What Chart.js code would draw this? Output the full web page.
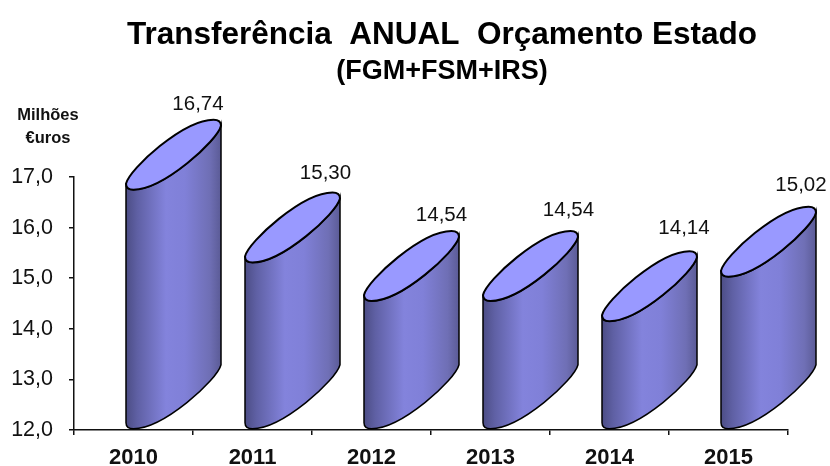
<!DOCTYPE html>
<html><head><meta charset="utf-8">
<style>html,body{margin:0;padding:0;background:#fff}#w{width:830px;height:466px;position:relative}</style>
<script src="https://cdn.jsdelivr.net/npm/chart.js@4"></script>
</head><body><div id="w"><canvas id="c" width="830" height="466"></canvas></div>
<script>
const categories = ["2010","2011","2012","2013","2014","2015"];
const transferencia = [16.74,15.30,14.54,14.54,14.14,15.02];
const yTicks = [12,13,14,15,16,17];
const unitLabel = ["Milhões","€uros"];
const titleText = "Transferência  ANUAL  Orçamento Estado";
const subtitleText = "(FGM+FSM+IRS)";
const fmt = (v,d) => v.toFixed(d).replace(".",",");

// styling of the slanted cylinders and hand-placed labels
const labelShift = [[24.5,16],[33,20],[30,16],[38,21],[34.5,23],[32.5,21.5]];
const HALF_H = 35.5, SHIFT = 40;

// front rim of a cap, right end to left end, around (cx,cy)
function frontRim(ctx,cx,cy){
  ctx.bezierCurveTo(cx+44,cy-14,cx-10,cy+35,cx-40,cy+35);
  ctx.bezierCurveTo(cx-45,cy+35,cx-47.5,cy+33,cx-47.5,cy+29);
}
function backRim(ctx,cx,cy){
  ctx.bezierCurveTo(cx-44,cy+14,cx+10,cy-35,cx+40,cy-35);
  ctx.bezierCurveTo(cx+45,cy-35,cx+47.5,cy-33,cx+47.5,cy-29);
}
function frontRimReversed(ctx,cx,cy){
  ctx.bezierCurveTo(cx-47.5,cy+33,cx-45,cy+35,cx-40,cy+35);
  ctx.bezierCurveTo(cx-10,cy+35,cx+44,cy-14,cx+47.5,cy-29);
}

const cylinders = {
  id:"cylinders",
  afterLayout(chart){
    chart.boxes.filter(b=>b.position==="top" && !b.axis).forEach(b=>{b.left+=48;b.right+=48;});
  },
  afterDatasetsDraw(chart){
    const ctx = chart.ctx, meta = chart.getDatasetMeta(0);
    ctx.save();
    meta.data.forEach((el,i)=>{
      const cx = el.x+SHIFT, topC = el.y-HALF_H, botC = el.base-HALF_H;
      const g = ctx.createLinearGradient(cx-47.5,0,cx+47.5,0);
      g.addColorStop(0,"#4c4d85"); g.addColorStop(0.12,"#5f60a4");
      g.addColorStop(0.42,"#8383dc"); g.addColorStop(0.62,"#8080d8");
      g.addColorStop(0.88,"#6f6fb5"); g.addColorStop(1,"#5b5b96");
      ctx.beginPath();
      ctx.moveTo(cx-47.5, topC+29);
      ctx.lineTo(cx-47.5, botC+29);
      frontRimReversed(ctx,cx,botC);
      ctx.lineTo(cx+47.5, topC-29);
      frontRim(ctx,cx,topC);
      ctx.closePath();
      ctx.fillStyle = g; ctx.fill();
      ctx.strokeStyle = "#000"; ctx.lineWidth = 1.5; ctx.stroke();
      ctx.beginPath();
      ctx.moveTo(cx+47.5, topC-29);
      frontRim(ctx,cx,topC);
      backRim(ctx,cx,topC);
      ctx.closePath();
      ctx.fillStyle = "#9999ff"; ctx.fill();
      ctx.lineWidth = 2; ctx.stroke();
      ctx.fillStyle = "#111";
      ctx.font = "20.5px 'Liberation Sans', Arial, sans-serif";
      ctx.textAlign = "center"; ctx.textBaseline = "middle";
      ctx.fillText(fmt(transferencia[i],2), cx+labelShift[i][0], el.y-70-labelShift[i][1]);
    });
    ctx.fillStyle = "#111";
    ctx.font = "bold 16.5px 'Liberation Sans', Arial, sans-serif";
    ctx.textAlign = "center"; ctx.textBaseline = "middle";
    unitLabel.forEach((t,i)=>ctx.fillText(t,48,115+i*23));
    ctx.restore();
  }
};

new Chart(document.getElementById("c"),{
  type:"bar",
  data:{labels:categories,datasets:[{data:transferencia,base:12,backgroundColor:"rgba(0,0,0,0)",borderWidth:0,barPercentage:0.8,categoryPercentage:1}]},
  plugins:[cylinders],
  options:{
    responsive:false,animation:false,
    layout:{padding:{top:0,left:0,right:42,bottom:0}},
    plugins:{
      legend:{display:false},tooltip:{enabled:false},
      title:{display:true,text:titleText,color:"#000",font:{family:"'Liberation Sans', Arial, sans-serif",size:31.5,weight:"bold"},padding:{top:16,bottom:0}},
      subtitle:{display:true,text:subtitleText,color:"#000",font:{family:"'Liberation Sans', Arial, sans-serif",size:27,weight:"bold"},padding:{top:2,bottom:88.8}}
    },
    scales:{
      y:{min:12,max:17,afterFit(s){s.width=74},afterBuildTicks(s){s.ticks=yTicks.map(v=>({value:v}))},
        border:{display:true,color:"#111",width:1.5},
        grid:{drawOnChartArea:false,color:"#111",tickLength:5,lineWidth:1.5},
        ticks:{color:"#111",padding:16,font:{family:"'Liberation Sans', Arial, sans-serif",size:21.5},callback:v=>fmt(v,1)}},
      x:{afterFit(s){s.height=36},
        border:{display:true,color:"#111",width:1.5},
        grid:{drawOnChartArea:false,color:"#111",tickLength:5,lineWidth:1.5},
        ticks:{color:"#111",padding:10,maxRotation:0,font:{family:"'Liberation Sans', Arial, sans-serif",size:22,weight:"bold"}}}
    }
  }
});
</script></body></html>
